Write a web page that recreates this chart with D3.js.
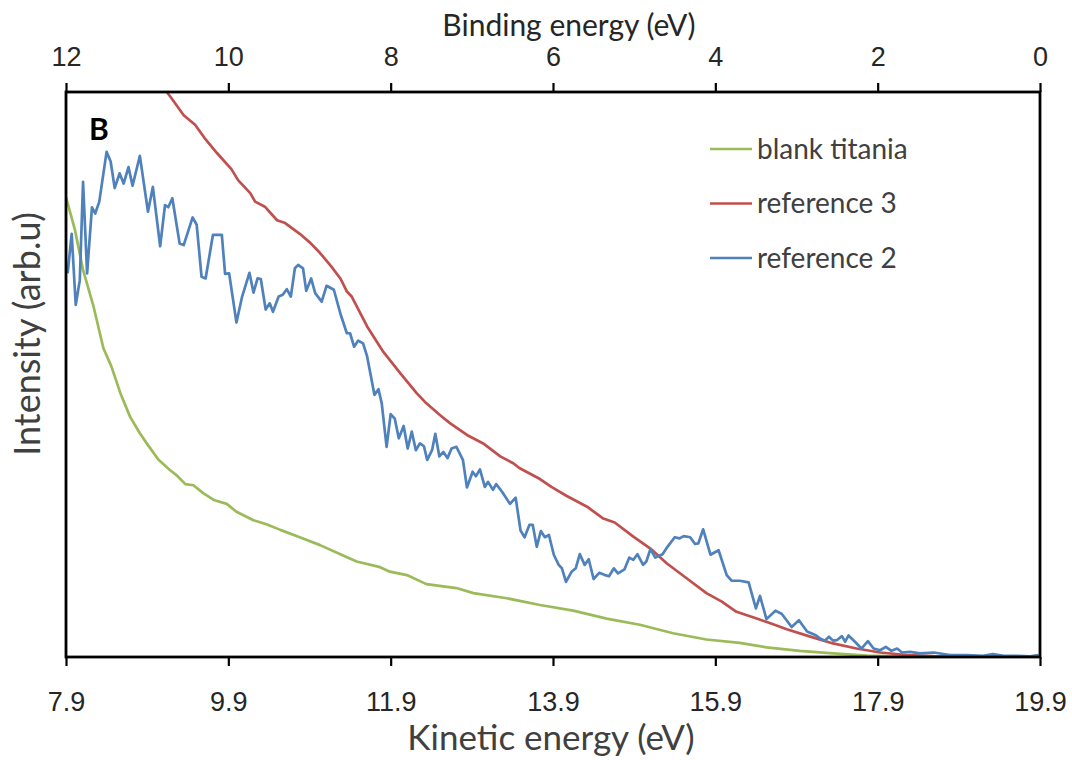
<!DOCTYPE html>
<html>
<head>
<meta charset="utf-8">
<script src="https://cdn.jsdelivr.net/npm/d3@7"></script>
<style>
  html, body { margin: 0; padding: 0; background: #fff; }
  svg { display: block; font-family: Lato, "Open Sans", sans-serif; }
</style>
</head>
<body>
<svg id="chart" width="1072" height="760"></svg>
<script>
// kinetic energy (eV) / intensity (arb.u, 0..100 = frame height)
const blankKE = [7.90, 8.01, 8.11, 8.24, 8.36, 8.46, 8.57, 8.69, 8.81, 8.91, 9.04, 9.18, 9.26, 9.37, 9.47, 9.59, 9.72, 9.88, 10.00, 10.21, 10.37, 10.54, 10.78, 11.03, 11.28, 11.48, 11.77, 11.89, 12.10, 12.34, 12.71, 12.92, 13.33, 13.74, 14.15, 14.56, 14.97, 15.38, 15.79, 16.20, 16.53, 16.94, 17.35, 17.77, 18.18, 19.90];
const blankI = [81.4, 75.6, 68.5, 62.0, 54.7, 51.4, 46.7, 42.5, 39.6, 37.5, 34.9, 33.1, 32.2, 30.6, 30.4, 29.0, 27.8, 27.1, 25.7, 24.2, 23.5, 22.5, 21.2, 19.8, 18.2, 16.9, 15.9, 15.1, 14.5, 12.9, 12.2, 11.3, 10.4, 9.2, 8.2, 6.8, 5.7, 4.2, 3.1, 2.5, 1.7, 1.1, 0.65, 0.25, 0.1, 0.1];

const ref3KE = [9.10, 9.20, 9.35, 9.49, 9.61, 9.76, 9.94, 10.02, 10.17, 10.23, 10.35, 10.50, 10.60, 10.78, 10.91, 11.03, 11.17, 11.28, 11.36, 11.42, 11.61, 11.81, 12.02, 12.22, 12.34, 12.51, 12.63, 12.84, 13.04, 13.25, 13.41, 13.49, 13.74, 13.88, 14.07, 14.32, 14.52, 14.66, 14.89, 15.10, 15.30, 15.55, 15.79, 15.98, 16.16, 16.41, 16.57, 16.78, 17.07, 17.35, 17.64, 17.93, 18.26, 18.59, 19.90];
const ref3I = [100.8, 98.9, 95.9, 94.2, 91.8, 89.2, 86.3, 84.4, 82.1, 80.6, 79.7, 77.3, 76.8, 74.9, 73.3, 71.5, 69.1, 67.0, 64.7, 63.8, 58.5, 54.0, 50.2, 46.7, 44.9, 42.8, 41.4, 39.3, 37.8, 35.5, 34.3, 33.4, 31.5, 30.1, 28.5, 26.6, 24.5, 23.8, 21.3, 19.2, 16.6, 13.9, 11.3, 9.8, 8.0, 6.8, 6.0, 4.9, 3.6, 2.4, 1.5, 0.8, 0.35, 0.15, 0.1];

const ref2KE = [7.92, 7.97, 8.02, 8.07, 8.11, 8.16, 8.22, 8.26, 8.31, 8.40, 8.45, 8.50, 8.56, 8.61, 8.67, 8.72, 8.81, 8.91, 8.97, 9.06,
  9.12, 9.16, 9.21, 9.30, 9.35, 9.46, 9.51, 9.57, 9.62, 9.71, 9.82, 9.86, 9.91, 10.00, 10.07, 10.16, 10.21, 10.26, 10.30, 10.36,
  10.41, 10.45, 10.52, 10.57, 10.62, 10.67, 10.72, 10.76, 10.82, 10.86, 10.92, 10.97, 11.05, 11.11, 11.20, 11.28, 11.36, 11.40, 11.45, 11.50,
  11.56, 11.61, 11.70, 11.75, 11.79, 11.85, 11.90, 11.95, 12.00, 12.06, 12.11, 12.16, 12.21, 12.26, 12.31, 12.35, 12.41, 12.45, 12.50, 12.55,
  12.60, 12.65, 12.71, 12.79, 12.84, 12.91, 12.95, 13.00, 13.06, 13.10, 13.16, 13.20, 13.27, 13.37, 13.44, 13.50, 13.55, 13.61, 13.65, 13.70,
  13.75, 13.80, 13.85, 13.91, 13.97, 14.01, 14.06, 14.13, 14.18, 14.23, 14.29, 14.34, 14.40, 14.47, 14.54, 14.59, 14.65, 14.70, 14.78, 14.84,
  14.89, 14.94, 15.01, 15.05, 15.10, 15.16, 15.25, 15.31, 15.40, 15.46, 15.51, 15.59, 15.65, 15.69, 15.75, 15.84, 15.94, 16.04, 16.10, 16.20,
  16.31, 16.40, 16.45, 16.53, 16.64, 16.72, 16.84, 16.93, 17.03, 17.13, 17.19, 17.25, 17.30, 17.35, 17.40, 17.46, 17.50, 17.54, 17.62, 17.70,
  17.78, 17.85, 17.93, 18.00, 18.07, 18.14, 18.20, 18.30, 18.42, 18.59, 18.79, 19.00, 19.20, 19.32, 19.45, 19.61, 19.78, 19.88];
const ref2I = [67.9, 74.9, 62.3, 66.7, 84.1, 67.9, 79.6, 78.5, 80.6, 89.4, 87.7, 83.0, 85.6, 83.8, 86.7, 83.4, 88.7, 78.8, 83.2, 72.7,
  80.0, 79.6, 81.2, 73.2, 72.9, 77.8, 76.5, 67.3, 67.0, 74.7, 74.7, 67.8, 67.9, 59.2, 63.8, 68.0, 64.5, 67.0, 66.9, 61.5,
  62.6, 61.1, 63.8, 64.1, 65.1, 63.8, 68.8, 69.4, 68.8, 64.8, 67.0, 64.4, 62.9, 65.7, 65.0, 60.8, 57.3, 57.3, 54.9, 56.0,
  55.5, 53.2, 46.4, 47.4, 44.9, 37.2, 43.0, 42.2, 38.7, 40.9, 36.9, 39.9, 36.6, 37.8, 37.3, 34.9, 36.6, 39.5, 35.5, 36.3,
  35.2, 36.9, 37.2, 34.9, 30.0, 32.8, 32.0, 33.2, 30.1, 31.0, 29.6, 30.6, 29.3, 27.1, 28.2, 22.4, 21.2, 23.4, 23.4, 19.5,
  22.3, 21.2, 21.6, 18.1, 16.3, 15.7, 13.3, 15.1, 15.7, 18.2, 16.3, 17.3, 13.8, 14.9, 14.5, 14.3, 15.7, 14.8, 15.5, 17.6,
  17.2, 18.2, 16.3, 16.9, 19.1, 17.6, 18.2, 19.5, 21.2, 21.0, 21.4, 21.2, 20.0, 20.1, 22.6, 18.1, 18.9, 14.5, 13.5, 13.5,
  13.2, 8.6, 10.8, 6.7, 8.2, 7.6, 5.3, 6.5, 4.5, 3.9, 3.3, 2.9, 3.6, 2.9, 3.0, 3.7, 2.7, 3.8, 2.7, 1.5,
  2.8, 1.5, 1.2, 1.8, 1.1, 1.5, 0.8, 0.9, 0.65, 0.8, 0.35, 0.35, 0.2, 0.5, 0.2, 0.2, 0.1, 0.35];

const series = [
  { name: 'blank titania', color: '#9bbb59', ke: blankKE, val: blankI },
  { name: 'reference 3', color: '#c0504d', ke: ref3KE, val: ref3I },
  { name: 'reference 2', color: '#4f81bd', ke: ref2KE, val: ref2I }
];
const kineticTicks = [7.9, 9.9, 11.9, 13.9, 15.9, 17.9, 19.9];
const bindingTicks = [12, 10, 8, 6, 4, 2, 0];

const W = 1072, H = 760;
const margin = { top: 92, right: 32, bottom: 103, left: 66 };
const iw = W - margin.left - margin.right;
const ih = H - margin.top - margin.bottom;

const svg = d3.select('#chart');
const g = svg.append('g').attr('transform', `translate(${margin.left},${margin.top})`);

const x = d3.scaleLinear().domain([7.9, 19.9]).range([0, iw]);
const xTop = d3.scaleLinear().domain([12, 0]).range([0, iw]);
const y = d3.scaleLinear().domain([0, 100]).range([ih, 0]);

g.append('clipPath').attr('id', 'plotClip')
  .append('rect').attr('width', iw).attr('height', ih);

// curves
const line = d3.line().x(d => x(d[0])).y(d => y(d[1]));
const plot = g.append('g').attr('clip-path', 'url(#plotClip)');
series.forEach(s => {
  plot.append('path')
    .datum(s.ke.map((k, i) => [k, s.val[i]]))
    .attr('fill', 'none')
    .attr('stroke', s.color)
    .attr('stroke-width', 2.7)
    .attr('stroke-linejoin', 'round')
    .attr('d', line);
});

// axes
const axisB = g.append('g').attr('transform', `translate(0,${ih})`)
  .call(d3.axisBottom(x).tickValues(kineticTicks).tickFormat(d3.format('.1f')).tickSize(9).tickPadding(26));
const axisT = g.append('g')
  .call(d3.axisTop(xTop).tickValues(bindingTicks).tickFormat(d3.format('d')).tickSize(9).tickPadding(17));
[axisB, axisT].forEach(a => {
  a.select('.domain').remove();
  a.selectAll('.tick line').attr('stroke', '#000').attr('stroke-width', 2.2);
  a.selectAll('.tick text').attr('fill', '#262626').style('font-size', '27px');
});

// frame
g.append('rect')
  .attr('width', iw).attr('height', ih)
  .attr('fill', 'none').attr('stroke', '#000').attr('stroke-width', 2.8);

// titles
svg.append('text')
  .attr('x', 551).attr('y', 750)
  .attr('text-anchor', 'middle')
  .attr('fill', '#404040').style('font-size', '35px')
  .text('Kinetic energy (eV)');
svg.append('text')
  .attr('x', 569).attr('y', 36)
  .attr('text-anchor', 'middle')
  .attr('fill', '#262626').style('font-size', '30px')
  .text('Binding energy (eV)');
svg.append('text')
  .attr('transform', 'translate(40,334) rotate(-90)')
  .attr('text-anchor', 'middle')
  .attr('fill', '#404040').style('font-size', '36px')
  .text('Intensity (arb.u)');
svg.append('text')
  .attr('x', 89).attr('y', 140)
  .attr('fill', '#000').style('font-size', '30px').style('font-weight', 'bold')
  .text('B');

// legend
const legend = g.append('g').attr('transform', `translate(${710 - margin.left},${149 - margin.top})`);
series.forEach((s, i) => {
  const row = legend.append('g').attr('transform', `translate(0,${i * 54.5})`);
  row.append('line').attr('x1', 0).attr('x2', 42)
    .attr('stroke', s.color).attr('stroke-width', 2.7);
  row.append('text').attr('x', 47).attr('dy', '0.35em')
    .attr('fill', '#404040').style('font-size', '28px')
    .text(s.name);
});
</script>
</body>
</html>
